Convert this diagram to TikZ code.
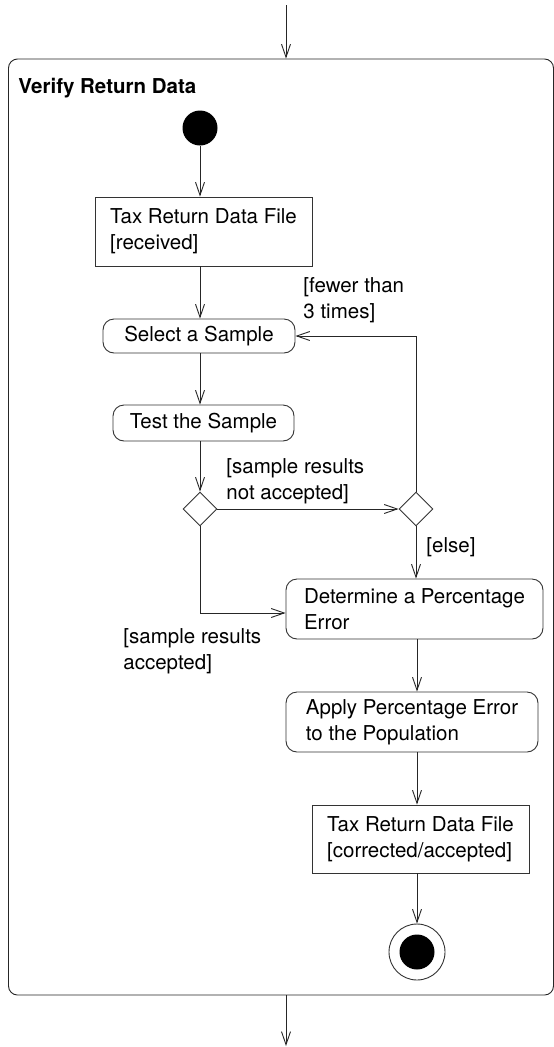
\documentclass[tikz,border=0pt]{standalone}
\usepackage{fontspec}
\setmainfont{TeX Gyre Heros}
\usetikzlibrary{arrows.meta,shapes.geometric,calc}
\begin{document}
\begin{tikzpicture}[x=1pt,y=-1pt,
  line width=0.9pt,
  every node/.style={font=\fontsize{20.5}{26}\selectfont, inner sep=0pt},
  flow/.style={draw=black!85, -{Straight Barb[length=13pt,width=9pt]}},
  objbox/.style={draw=black!80, rectangle, align=left},
  actbox/.style={draw=black!80, rectangle, rounded corners=11pt, align=left},
  decision/.style={draw=black!80, diamond, minimum width=34pt, minimum height=34pt},
  guard/.style={anchor=base west, align=left}]
\useasboundingbox (0,0) rectangle (554,1047);

% activity frame
\node[draw=black!85, rounded corners=9pt, minimum width=545pt, minimum height=936pt] (frame) at (281,527) {};
\node[anchor=base west, font=\fontsize{20.5}{26}\selectfont\bfseries] (title) at (18,93) {Verify Return Data};
\coordinate (entry) at (286,5);
\coordinate (exit) at (286,1046);

% nodes
\node[circle, fill=black, minimum size=35pt] (init) at (200,128) {};
\node[objbox, minimum width=217pt, minimum height=69pt] (d1) at (203.5,231.5) {Tax Return Data File\\{[received]}};
\node[actbox, minimum width=192pt, minimum height=34pt] (sel) at (199,336) {Select a Sample};
\node[actbox, minimum width=181pt, minimum height=36pt] (test) at (203.5,423) {Test the Sample};
\node[decision] (dl) at (200,509) {};
\node[decision] (dr) at (416,509) {};
\node[actbox, minimum width=257pt, minimum height=60pt] (det) at (414.5,609) {Determine a Percentage\\Error};
\node[actbox, minimum width=252pt, minimum height=60pt] (app) at (412,722) {Apply Percentage Error\\to the Population};
\node[objbox, minimum width=217pt, minimum height=68pt] (d2) at (420.5,839) {Tax Return Data File\\{[corrected/accepted]}};
\node[circle, draw=black!80, minimum size=56pt] (final) at (417,952) {};
\node[circle, fill=black, minimum size=35pt] (finaldot) at (final) {};

% guards (anchored at the baseline of their last line)
\node[guard] (gfewer) at (303,318) {[fewer than\\3 times]};
\node[guard] (gnot) at (226,499) {[sample results\\not accepted]};
\node[guard] (gelse) at (426,552) {[else]};
\node[guard] (gacc) at (123,669) {[sample results\\accepted]};

% control flows
\draw[flow] (entry) -- (entry |- frame.north);
\draw[flow] (exit |- frame.south) -- (exit);
\draw[flow] (init.south) -- (init.south |- d1.north);
\draw[flow] (d1.south -| init) -- (sel.north -| init);
\draw[flow] (sel.south -| init) -- (test.north -| init);
\draw[flow] (test.south -| init) -- (dl.north);
\draw[flow] (dl.east) -- (dr.west);
\draw[flow] (dr.north) |- (sel.east);
\draw[flow] (dl.south) |- ([yshift=-4pt]det.west);
\draw[flow] (dr.south) -- (dr.south |- det.north);
\draw[flow] (det.south -| final) -- (app.north -| final);
\draw[flow] (app.south -| final) -- (d2.north -| final);
\draw[flow] (d2.south -| final) -- (final.north);
\end{tikzpicture}
\end{document}
